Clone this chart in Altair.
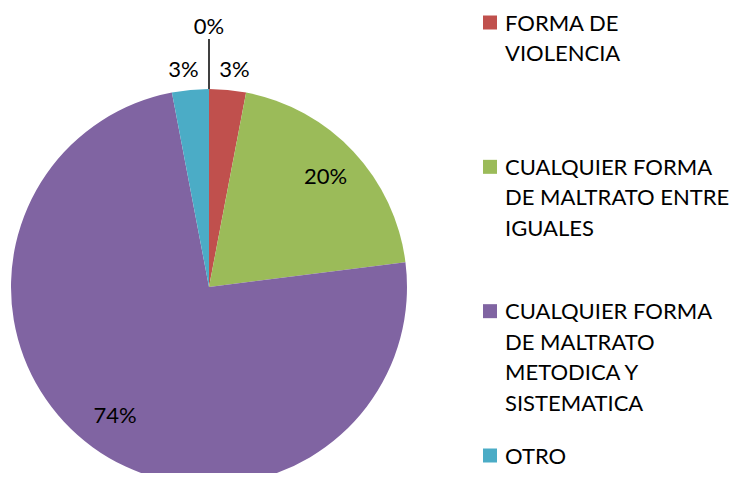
import altair as alt
import pandas as pd

# Slice data (clockwise from 12 o'clock)
categories = ["", "FORMA DE VIOLENCIA", "CUALQUIER FORMA DE MALTRATO ENTRE IGUALES",
              "CUALQUIER FORMA DE MALTRATO METODICA Y SISTEMATICA", "OTRO"]
values = [0, 3, 20, 74, 3]
colors = ["#4F81BD", "#C0504D", "#9BBB59", "#8064A2", "#4BACC6"]

# Legend (wrapped text as in the original)
legend_labels = ["FORMA DE\nVIOLENCIA",
                 "CUALQUIER FORMA\nDE MALTRATO ENTRE\nIGUALES",
                 "CUALQUIER FORMA\nDE MALTRATO\nMETODICA Y\nSISTEMATICA",
                 "OTRO"]
legend_colors = colors[1:]

FONT = "Lato"
CX, CY, R = 201, 279, 198

df = pd.DataFrame({"idx": list(range(len(values))), "category": categories,
                   "value": values, "color": colors})
leg = pd.DataFrame({"slot": list(range(len(legend_labels))), "label": legend_labels,
                    "color": legend_colors})

theta_scale = alt.Scale(domain=[0, 100], range=[0, 6.283185307179586])
color_scale = alt.Scale(domain=categories, range=colors)

base = alt.Chart(df).transform_window(
    cum="sum(value)", sort=[{"field": "idx"}], frame=[None, 0]
).transform_calculate(
    start="datum.cum - datum.value",
    mid="datum.cum - datum.value / 2",
    label="datum.value + '%'"
)

arcs = base.mark_arc(outerRadius=R).encode(
    theta=alt.Theta("start:Q", scale=theta_scale, stack=None),
    theta2="cum:Q",
    color=alt.Color("category:N", scale=color_scale, legend=None),
    x=alt.value(CX), y=alt.value(CY),
)

def lbl(filter_expr, radius, dx=0):
    return base.transform_filter(filter_expr).mark_text(
        font=FONT, fontSize=22, color="#000000", dx=dx
    ).encode(
        theta=alt.Theta("mid:Q", scale=theta_scale, stack=None),
        radius=alt.value(radius),
        text="label:N",
        x=alt.value(CX), y=alt.value(CY),
    )

inner = lbl("datum.value >= 10", 160)
out_red = lbl("datum.idx == 1", 218, 5)
out_teal = lbl("datum.idx == 4", 218, -5)
zero = lbl("datum.value == 0", 260)

leader = alt.Chart(df).transform_filter("datum.value == 0").mark_rule(
    color="#000000", strokeWidth=1.5
).encode(x=alt.value(CX), y=alt.value(31), y2=alt.value(81))

yscale = alt.Scale(domain=[0, 3], range=[14.5, 447.5])
leg_sq = alt.Chart(leg).mark_square(size=196, opacity=1).encode(
    x=alt.value(482),
    y=alt.Y("slot:Q", scale=yscale, axis=None),
    color=alt.Color("color:N", scale=None, legend=None),
)
leg_tx = alt.Chart(leg).mark_text(
    font=FONT, fontSize=22, align="left", baseline="top", dy=-9,
    lineBreak="\n", lineHeight=30.5, color="#000000"
).encode(
    x=alt.value(497),
    y=alt.Y("slot:Q", scale=yscale, axis=None),
    text="label:N",
)

chart = alt.layer(arcs, inner, out_red, out_teal, zero, leader, leg_sq, leg_tx).properties(
    width=726, height=465, padding=0, autosize="none"
).configure_view(stroke="transparent", strokeWidth=0)

chart.save("out.html", embed_options={"renderer": "svg", "actions": False})
